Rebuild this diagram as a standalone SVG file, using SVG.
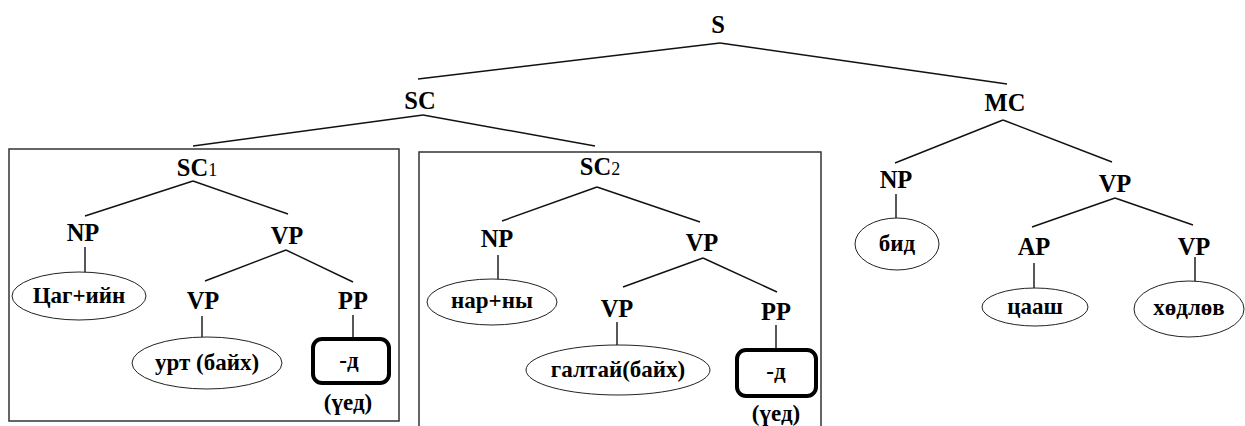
<svg xmlns="http://www.w3.org/2000/svg" width="1245" height="426" viewBox="0 0 1245 426">
<style>
text{font-family:'Liberation Serif','Times New Roman',serif;font-weight:700;fill:#000;text-anchor:middle}
.lbl{font-size:24.5px}
.w{font-size:23px}
.ell{fill:#fff;stroke:#222;stroke-width:1}
.rr{fill:#fff;stroke:#000;stroke-width:4}
.box{fill:none;stroke:#333;stroke-width:1.5}
.edges line{stroke:#111;stroke-width:1.4}
</style>
<rect width="1245" height="426" fill="#fff"/>
<g id="boxes">
<rect class="box" x="9" y="149" width="390" height="272"/>
<rect class="box" x="419" y="152" width="402" height="290"/>
</g>
<g id="connectors" class="edges">
<line x1="720" y1="43" x2="418" y2="79"/>
<line x1="720" y1="43" x2="1007" y2="84"/>
<line x1="423" y1="115" x2="193" y2="146"/>
<line x1="423" y1="115" x2="595" y2="146"/>
<line x1="1003" y1="120" x2="895" y2="163"/>
<line x1="1003" y1="120" x2="1112" y2="162"/>
<line x1="193" y1="181" x2="85" y2="216"/>
<line x1="193" y1="181" x2="288" y2="214"/>
<line x1="85" y1="247" x2="85" y2="272"/>
<line x1="286" y1="250" x2="205" y2="281"/>
<line x1="286" y1="250" x2="353" y2="282"/>
<line x1="202" y1="316" x2="202" y2="337"/>
<line x1="353" y1="315" x2="353" y2="338"/>
<line x1="597" y1="187" x2="502" y2="221"/>
<line x1="597" y1="187" x2="700" y2="222"/>
<line x1="498" y1="255" x2="498" y2="279"/>
<line x1="703" y1="258" x2="623" y2="287"/>
<line x1="703" y1="258" x2="777" y2="292"/>
<line x1="617" y1="322" x2="617" y2="345"/>
<line x1="776" y1="325" x2="776" y2="349"/>
<line x1="896" y1="194" x2="896" y2="218"/>
<line x1="1115" y1="198" x2="1032" y2="227"/>
<line x1="1115" y1="198" x2="1193" y2="225"/>
<line x1="1034" y1="263" x2="1034" y2="288"/>
<line x1="1195" y1="257" x2="1195" y2="281"/>
</g>
<g id="n-S"><text class="lbl" x="718" y="33">S</text></g>
<g id="n-SC"><text class="lbl" x="420" y="109">SC</text></g>
<g id="n-MC"><text class="lbl" x="1005" y="111">MC</text></g>
<g id="n-SC1"><text class="lbl" x="197" y="176">SC<tspan font-size="18" font-weight="400">1</tspan></text></g>
<g id="n-SC2"><text class="lbl" x="600" y="175">SC<tspan font-size="18" font-weight="400">2</tspan></text></g>
<g id="n-NP1"><text class="lbl" x="83" y="241">NP</text></g>
<g id="n-VP1"><text class="lbl" x="287" y="244">VP</text></g>
<g id="n-VP1a"><text class="lbl" x="203" y="309">VP</text></g>
<g id="n-PP1"><text class="lbl" x="353" y="309">PP</text></g>
<g id="n-NP2"><text class="lbl" x="497" y="247">NP</text></g>
<g id="n-VP2"><text class="lbl" x="702" y="251">VP</text></g>
<g id="n-VP2a"><text class="lbl" x="617" y="317">VP</text></g>
<g id="n-PP2"><text class="lbl" x="776" y="320">PP</text></g>
<g id="n-NP3"><text class="lbl" x="896" y="188">NP</text></g>
<g id="n-VP3"><text class="lbl" x="1115" y="192">VP</text></g>
<g id="n-AP"><text class="lbl" x="1034" y="255">AP</text></g>
<g id="n-VP3a"><text class="lbl" x="1194" y="255">VP</text></g>
<g id="w-tsag"><ellipse class="ell" cx="79" cy="296" rx="67" ry="24"/><text class="w" x="79" y="303">Цаг+ийн</text></g>
<g id="w-urt"><ellipse class="ell" cx="207" cy="363" rx="75" ry="26"/><text class="w" x="207" y="370">урт (байх)</text></g>
<g id="w-d1"><rect class="rr" x="313" y="339" width="76" height="44" rx="9"/><text class="w" x="349" y="368">-д</text><text class="w" x="348" y="410">(үед)</text></g>
<g id="w-nar"><ellipse class="ell" cx="492" cy="302" rx="65" ry="23"/><text class="w" x="492" y="308">нар+ны</text></g>
<g id="w-galtai"><ellipse class="ell" cx="618" cy="370" rx="92" ry="25"/><text class="w" x="618" y="377">галтай(байх)</text></g>
<g id="w-d2"><rect class="rr" x="737" y="350" width="79" height="46" rx="9"/><text class="w" x="776" y="379">-д</text><text class="w" x="776" y="421">(үед)</text></g>
<g id="w-bid"><ellipse class="ell" cx="897" cy="244" rx="42" ry="26"/><text class="w" x="897" y="251">бид</text></g>
<g id="w-tsaash"><ellipse class="ell" cx="1035" cy="307" rx="53" ry="19"/><text class="w" x="1035" y="314">цааш</text></g>
<g id="w-khodlov"><ellipse class="ell" cx="1189" cy="309" rx="55" ry="28"/><text class="w" x="1189" y="315">хөдлөв</text></g>
</svg>
